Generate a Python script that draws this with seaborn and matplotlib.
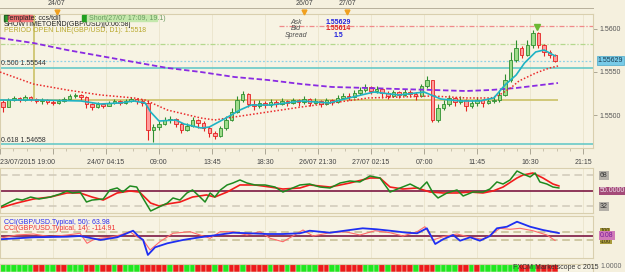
import numpy as np
import matplotlib
matplotlib.use("Agg")
import matplotlib.pyplot as plt
import matplotlib.transforms as mtrans
from matplotlib.patches import Rectangle
import seaborn as sns

sns.set_theme(style="white")
plt.rcParams['font.family'] = ['Liberation Sans Narrow', 'Liberation Sans', 'DejaVu Sans']

# ---------------- data ----------------
tick_bars = [0, 19, 38, 57, 76, 95, 114, 133, 152, 171, 190, 209]
tick_labels = ["23/07/2015 19:00", "", "24/07 04:15", "09:00", "13:45", "18:30",
               "26/07 21:30", "27/07 02:15", "07:00", "11:45", "16:30", "21:15"]
date_marks = ["24/07", "26/07", "27/07"]
date_mark_bars = [20.4, 109.0, 124.4]

open0 = 1.55151
closes = np.array([
    1.55093, 1.55174, 1.55198, 1.55174, 1.55209, 1.55186, 1.55163, 1.55174, 1.55151, 1.55140,
    1.55163, 1.55186, 1.55221, 1.55233, 1.55209, 1.55128, 1.55093, 1.55128, 1.55105, 1.55140,
    1.55163, 1.55140, 1.55163, 1.55186, 1.55163, 1.55140, 1.54826, 1.54860, 1.54895, 1.54942,
    1.54953, 1.54895, 1.54826, 1.54872, 1.54942, 1.54907, 1.54849, 1.54791, 1.54756, 1.54849,
    1.54942, 1.55035, 1.55174, 1.55244, 1.55128, 1.55105, 1.55140, 1.55116, 1.55151, 1.55128,
    1.55163, 1.55140, 1.55174, 1.55151, 1.55186, 1.55140, 1.55163, 1.55128, 1.55174, 1.55151,
    1.55198, 1.55221, 1.55209, 1.55256, 1.55291, 1.55326, 1.55279, 1.55302, 1.55256, 1.55221,
    1.55267, 1.55233, 1.55267, 1.55244, 1.55221, 1.55337, 1.55407, 1.54942, 1.55081, 1.55128,
    1.55198, 1.55151, 1.55174, 1.55105, 1.55140, 1.55174, 1.55140, 1.55163, 1.55174, 1.55233,
    1.55407, 1.55640, 1.55779, 1.55698, 1.55814, 1.55953, 1.55814, 1.55733, 1.55698, 1.55629])
highs = np.array([
    1.55174, 1.55198, 1.55221, 1.55209, 1.55233, 1.55221, 1.55198, 1.55198, 1.55186, 1.55174,
    1.55186, 1.55209, 1.55244, 1.55256, 1.55244, 1.55221, 1.55140, 1.55151, 1.55140, 1.55163,
    1.55186, 1.55174, 1.55186, 1.55209, 1.55198, 1.55186, 1.55174, 1.54895, 1.54930, 1.54977,
    1.54988, 1.54965, 1.54919, 1.54907, 1.54977, 1.54953, 1.54930, 1.54872, 1.54814, 1.54872,
    1.54988, 1.55081, 1.55221, 1.55279, 1.55256, 1.55174, 1.55174, 1.55163, 1.55186, 1.55174,
    1.55198, 1.55174, 1.55198, 1.55186, 1.55221, 1.55198, 1.55198, 1.55174, 1.55198, 1.55186,
    1.55233, 1.55256, 1.55256, 1.55291, 1.55326, 1.55360, 1.55337, 1.55337, 1.55302, 1.55279,
    1.55291, 1.55279, 1.55302, 1.55291, 1.55267, 1.55360, 1.55453, 1.55407, 1.55128, 1.55174,
    1.55233, 1.55209, 1.55221, 1.55186, 1.55174, 1.55209, 1.55186, 1.55198, 1.55221, 1.55291,
    1.55477, 1.55733, 1.55872, 1.55802, 1.55872, 1.55988, 1.55965, 1.55826, 1.55756, 1.55709])
lows = np.array([
    1.55035, 1.55093, 1.55163, 1.55151, 1.55163, 1.55163, 1.55140, 1.55128, 1.55128, 1.55116,
    1.55128, 1.55151, 1.55186, 1.55198, 1.55174, 1.55081, 1.55058, 1.55081, 1.55081, 1.55105,
    1.55128, 1.55116, 1.55128, 1.55151, 1.55128, 1.55105, 1.54709, 1.54686, 1.54826, 1.54884,
    1.54907, 1.54860, 1.54791, 1.54814, 1.54860, 1.54849, 1.54814, 1.54744, 1.54721, 1.54744,
    1.54826, 1.54930, 1.55023, 1.55151, 1.55093, 1.55058, 1.55081, 1.55081, 1.55093, 1.55093,
    1.55116, 1.55105, 1.55128, 1.55105, 1.55128, 1.55105, 1.55128, 1.55093, 1.55116, 1.55116,
    1.55140, 1.55186, 1.55174, 1.55198, 1.55233, 1.55267, 1.55244, 1.55256, 1.55198, 1.55186,
    1.55209, 1.55198, 1.55221, 1.55209, 1.55174, 1.55209, 1.55314, 1.54919, 1.54919, 1.55058,
    1.55105, 1.55105, 1.55128, 1.55047, 1.55081, 1.55105, 1.55093, 1.55128, 1.55140, 1.55151,
    1.55221, 1.55384, 1.55616, 1.55663, 1.55686, 1.55779, 1.55779, 1.55686, 1.55663, 1.55616])

fast_ma_bars = [0, 14, 29, 36, 43, 48, 52, 54, 57, 63, 66, 72, 75, 81, 86, 90, 97, 108, 118,
                125, 134, 143, 152, 158, 165, 172, 177, 181, 185, 188, 192, 195, 199]
fast_ma = [1.55174, 1.55174, 1.55163, 1.55128, 1.55140, 1.55163, 1.55140, 1.55035, 1.54930,
           1.54942, 1.54895, 1.54849, 1.54860, 1.54965, 1.55058, 1.55116, 1.55116, 1.55163,
           1.55140, 1.55198, 1.55267, 1.55233, 1.55267, 1.55186, 1.55163, 1.55163, 1.55198,
           1.55349, 1.55465, 1.55605, 1.55733, 1.55756, 1.55686]
mid_ma_bars = [0, 12, 24, 36, 48, 52, 60, 72, 77, 84, 96, 108, 119, 132, 143, 155, 167, 176,
               179, 183, 186, 192, 197, 200]
mid_ma = [1.55500, 1.55360, 1.55291, 1.55233, 1.55198, 1.55174, 1.55058, 1.54965, 1.54942,
          1.54977, 1.55035, 1.55093, 1.55140, 1.55198, 1.55209, 1.55221, 1.55198, 1.55198,
          1.55233, 1.55314, 1.55395, 1.55488, 1.55547, 1.55570]
slow_ma_bars = [0, 12, 24, 36, 48, 60, 72, 84, 96, 108, 119, 132, 143, 155, 167, 176, 185, 194, 200]
slow_ma = [1.55895, 1.55837, 1.55756, 1.55686, 1.55616, 1.55547, 1.55500, 1.55442, 1.55407,
           1.55360, 1.55326, 1.55314, 1.55302, 1.55291, 1.55279, 1.55291, 1.55314, 1.55349, 1.55372]

period_open = 1.5518
fib_levels = [1.55544, 1.54658]
high_line, mid_line, ask_price, bid_price = 1.56035, 1.55826, 1.55629, 1.55614

rsi_bars = [0, 3.6, 6, 8, 11, 14, 18, 21.5, 24, 26, 28.7, 31, 33, 37, 39.4, 42, 44, 46.6, 49, 51,
            54, 57, 60, 62, 64.5, 67, 69, 71.7, 73.5, 75.3, 77, 79, 81.4, 83.5, 86, 88.5, 91.4, 95,
            98.6, 101.4, 104, 107.5, 111, 114.7, 118.3, 121.9, 125.4, 129, 132.6, 136.2, 139.8,
            143.4, 147, 150.5, 153, 155.2, 157, 160.2, 163.8, 166, 169.5, 173.1, 175.6, 178.1,
            180.3, 182.8, 185.3, 187.5, 190, 191.8, 193.5, 196, 198.2, 200.4]
rsi_vals = [31.4, 37.2, 40.7, 39.5, 43, 40.7, 43, 46.5, 50, 47.7, 48.8, 37.2, 39.5, 40.7, 51.2,
            53.5, 48.8, 55.8, 54.6, 43, 26.8, 31.4, 36, 41.9, 39.5, 47.7, 51.2, 43, 37.2, 47.7, 43,
            51.2, 57, 59.3, 62.8, 59.3, 57, 57, 54.6, 48.8, 52.3, 57, 58.1, 54.6, 53.5, 59.3, 61.6,
            60.5, 67.4, 65.1, 48.8, 53.5, 58.1, 52.3, 60.5, 47.7, 41.9, 47.7, 51.2, 44.2, 48.8,
            48.8, 52.3, 60.5, 58.1, 62.8, 73.2, 69.7, 66.3, 70.9, 60.5, 58.1, 54.6, 53.5]
sig_bars = [0, 6, 12, 18, 24, 28.7, 33, 37, 42, 46.6, 50, 54, 57, 60, 64.5, 69, 74, 77, 81.4, 86,
            91.4, 96.8, 101.4, 107.5, 111, 118.3, 125.4, 132.6, 136.2, 139.8, 144.4, 149.5, 154.1,
            158.8, 163.8, 168.5, 173.1, 176.7, 180.3, 185.3, 187.5, 191, 194.6, 198.2, 200.4]
sig_vals = [30.3, 36, 40.7, 43, 47.7, 47.7, 43, 39.5, 47.7, 50, 48.8, 36, 32.6, 34.9, 37.2, 43,
            45.4, 43, 48.8, 57, 57, 54.6, 52.3, 53.5, 57, 54.6, 59.3, 65.1, 65.1, 54.6, 52.3, 53.5,
            48.8, 47.7, 47.7, 48.8, 47.7, 50, 54.6, 65.1, 68.6, 70.9, 65.1, 58.1, 55.8]

cci50_bars = [0, 12, 24, 28.7, 33, 36, 42, 45.5, 47.7, 50, 51.3, 53, 55.6, 60, 65.6, 71.7, 77.8,
              83.5, 89.6, 95.7, 101.4, 107.5, 111, 118.3, 125.4, 130, 135, 139.8, 145.9, 149.5,
              153, 156, 158.8, 162.4, 164.9, 168.5, 172, 175.6, 178.1, 181.7, 185.3, 190, 194.6, 200.4]
cci50_vals = [-84, -36, -22, -5, -60, -100, -36, 60, 122, -36, -100, -460, -276, -180, -100, -36,
              19, 74, 60, 43, 43, 60, 122, 74, 139, 180, 156, 122, 74, 60, 180, -197, -84, 19,
              -118, -36, -118, -5, 180, 218, 338, 218, 139, 64]
cci14_bars = [0, 6, 12, 18, 24, 28.7, 31.2, 33.3, 35.8, 39.4, 43, 46.6, 49, 51.3, 53.8, 57.3, 62,
              68.1, 71.7, 75.3, 78.9, 83.5, 88.5, 93.2, 96.8, 101.4, 105, 108.6, 112.2, 118.3,
              123.7, 129, 134.4, 139.8, 144.4, 149.5, 152.3, 155.2, 158.8, 163.8, 168.5, 173.1,
              176.7, 179.2, 182.8, 186.4, 191, 196, 199]
cci14_vals = [-60, 19, 43, -22, 19, 60, -180, -100, -60, -36, 19, 98, -22, -100, -340, -142, 60,
              98, 19, -60, 98, 98, 19, 98, -60, -142, -5, 139, -5, 74, 98, 19, 122, 74, -5, 98,
              218, -100, -22, 43, -36, -84, 60, 180, 156, 180, 122, 19, -115]

strip_signs = ("GGGGGGRRGG" "RRGGGRRGRR" "GRGGGRRRRR" "GRRGGRRRGR" "GRRGRRRRGR"
               "RGRGGGGRRG" "GRRRRGGGRG" "RRRRGRRRGG" "GGRRGRGGGG" "GGGRRGRRRR")

# ---------------- layout ----------------
BG = "#f5f0de"
PANEL = "#f7f3e3"
EDGE = "#d9cfae"
W, H = 625, 272
XMAX = 593 / 2.79


def rect(x0, y0, x1, y1):
    return [x0 / W, 1 - y1 / H, (x1 - x0) / W, (y1 - y0) / H]


fig = plt.figure(figsize=(6.25, 2.72), dpi=100, facecolor=BG)
ax = fig.add_axes(rect(0, 14, 593, 148))
ax_top = fig.add_axes(rect(0, 0, 593, 8))
ax_rsi = fig.add_axes(rect(0, 168, 593, 213))
ax_cci = fig.add_axes(rect(0, 216, 593, 258))
ax_bar = fig.add_axes(rect(0, 264, 593, 272))

FS = 5
for a in (ax, ax_rsi, ax_cci, ax_bar):
    a.set_facecolor(PANEL)
    a.set_xlim(0, XMAX)
    for s in a.spines.values():
        s.set_color(EDGE)
        s.set_linewidth(0.8)
    a.set_xticks(tick_bars)
    a.grid(axis='x', color='#ebe4cc', lw=0.6)
    a.grid(axis='y', visible=False)

# ---------------- main price panel ----------------
candle_x = 1 + 2 * np.arange(len(closes))
opens = np.r_[open0, closes[:-1]]
up = closes >= opens
edge_c = np.where(up, '#2f8f2f', '#e52222')
face_c = np.where(up, '#9edc8a', '#ff9d9d')
ax.vlines(candle_x, lows, highs, colors=edge_c, lw=0.8, zorder=3)
ax.bar(candle_x, closes - opens, bottom=opens, width=1.25, color=face_c,
       edgecolor=edge_c, lw=0.6, zorder=4)

ax.axhline(fib_levels[0], color='#5cc6c6', lw=1.1, zorder=2)
ax.axhline(fib_levels[1], color='#5cc6c6', lw=1.1, zorder=2)
ax.axhline(ask_price, color='#8fd2e6', lw=0.9, ls=(0, (1.5, 1.5)), zorder=2)
ax.axhline(mid_line, color='#b4d88e', lw=0.9, ls=(0, (4, 1.5, 1, 1.5)), zorder=2)
ax.hlines(high_line, 100, XMAX, color='#f08a8a', lw=0.9, ls=(0, (4, 1.5, 1, 1.5)), zorder=2)
ax.hlines(period_open, 0, 200, color='#cfc570', lw=1.3, zorder=2)
ax.vlines(12.2, period_open, 1.5617, color='#cfc570', lw=1.3, zorder=2)

sns.lineplot(x=slow_ma_bars, y=slow_ma, ax=ax, color='#8a2be2', lw=1.3,
             linestyle=(0, (3, 1.5)), zorder=5)
sns.lineplot(x=mid_ma_bars, y=mid_ma, ax=ax, color='#ea2a2a', lw=1.1,
             linestyle=(0, (1, 1.3)), zorder=5)
sns.lineplot(x=fast_ma_bars, y=fast_ma, ax=ax, color='#1fb3c4', lw=1.2, zorder=6)
ax.plot([192.5], [1.56028], marker='v', color='#6cb834', ms=5, zorder=7)

ax.set_ylim(1.546163, 1.561744)
ax.yaxis.tick_right()
ax.set_yticks([1.5500, 1.5550, 1.5600])
ax.set_yticklabels(['1.5500', '1.5550', '1.5600'])
ax.set_xticklabels(tick_labels)
ax.get_xticklabels()[0].set_ha('left')
ax.xaxis.set_minor_locator(matplotlib.ticker.MultipleLocator(19 / 4))
ax.tick_params(axis='y', which='both', right=True, length=3, width=0.6, color='#a09a88',
               labelsize=FS, labelcolor='#555555', pad=2)
ax.tick_params(axis='x', which='major', bottom=True, length=4, width=0.6, color='#a09a88',
               labelsize=FS, labelcolor='#444444', pad=4)
ax.tick_params(axis='x', which='minor', bottom=True, length=2, width=0.5, color='#b8b09a')
ax.set_xlabel('')
ax.set_ylabel('')

blend = mtrans.blended_transform_factory(ax.transAxes, ax.transData)
ax.text(1.008, ask_price, '1.55629', transform=blend, fontsize=FS, va='center', ha='left',
        color='#1a3a50', bbox=dict(boxstyle='square,pad=0.15', fc='#78cbe8', ec='#4aa8c8', lw=0.5))

# texts in main panel (pixel positions)
def ptext(x, y, s, **kw):
    kw.setdefault('fontsize', FS)
    kw.setdefault('va', 'center')
    fig.text(x / W, 1 - y / H, s, **kw)


def prect(x0, y0, x1, y1, color):
    fig.patches.append(Rectangle((x0 / W, 1 - y1 / H), (x1 - x0) / W, (y1 - y0) / H,
                                 transform=fig.transFigure, color=color, zorder=10))


prect(4, 15, 7.5, 21, '#2ca02c')
prect(8, 15, 32, 21, '#f07575')
ptext(4, 18, '[Template: ccs/tdi]', color='#222222', zorder=11)
prect(82, 15, 87, 21, '#22a022')
prect(87, 15, 157, 21, '#c4e8ac')
ptext(89, 18, 'Short(27/07 17:09, 19.1)', color='#6a9a60', zorder=11)
ptext(4, 24.5, 'SHOWTIMETOEND(GBP/USD)[0:06:58]', color='#222222')
ptext(4, 30.5, 'PERIOD OPEN LINE(GBP/USD, D1): 1.5518', color='#b8a82a')
ptext(296, 23, 'Ask', color='#505050', style='italic', ha='center')
ptext(296, 29, 'Bid', color='#505050', style='italic', ha='center')
ptext(296, 35.5, 'Spread', color='#505050', style='italic', ha='center')
ptext(338, 23, '1.55629', color='#2222dd', weight='bold', ha='center')
ptext(338, 29, '1.55614', color='#dd2222', weight='bold', ha='center')
ptext(338, 35.5, '1.5', color='#2222dd', weight='bold', ha='center')
ptext(1, 63, '0.500 1.55544', color='#333333')
ptext(1, 140.5, '0.618 1.54658', color='#333333')

# ---------------- top date strip ----------------
ax_top.set_facecolor(BG)
ax_top.set_xlim(0, XMAX)
ax_top.set_ylim(0, 1)
for k, s in ax_top.spines.items():
    s.set_visible(k == 'bottom')
    s.set_color('#b8b09a')
    s.set_linewidth(0.7)
ax_top.set_yticks([])
ax_top.set_xticks([5.4 + 19.7 * k for k in range(11)])
ax_top.set_xticklabels([])
ax_top.tick_params(axis='x', direction='in', length=2.5, width=0.5, color='#a09a88')
for b, s in zip(date_mark_bars, date_marks):
    ax_top.text(b, 0.55, s, fontsize=FS, ha='center', va='center', color='#444444')
ax_top.plot(date_mark_bars, [-0.45] * 3, 'v', color='#f0a020', ms=3.5, clip_on=False, zorder=20)

# ---------------- RSI-like panel ----------------
ax_rsi.axhline(68, color='#cfc8b8', lw=1.1, ls=(0, (5, 3)))
ax_rsi.axhline(32, color='#cfc8b8', lw=1.1, ls=(0, (5, 3)))
ax_rsi.axhline(50, color='#7c1842', lw=1.2)
sns.lineplot(x=sig_bars, y=sig_vals, ax=ax_rsi, color='#f21c1c', lw=1.2)
sns.lineplot(x=rsi_bars, y=rsi_vals, ax=ax_rsi, color='#1f8a1f', lw=1.1)
ax_rsi.set_ylim(24.45, 76.7)
ax_rsi.set_yticks([])
ax_rsi.set_xticklabels([])
ax_rsi.tick_params(axis='x', length=0)
ax_rsi.set_xlabel('')
ax_rsi.set_ylabel('')
b2 = mtrans.blended_transform_factory(ax_rsi.transAxes, ax_rsi.transData)
for v, s, fc, tc in [(68, '68', '#b4b0a8', '#333333'), (50, '50.0000', '#a44a78', '#f0e4ee'),
                     (32, '32', '#b4b0a8', '#333333')]:
    ax_rsi.text(1.012, v, s, transform=b2, fontsize=FS, va='center', ha='left', color=tc,
                bbox=dict(boxstyle='square,pad=0.12', fc=fc, ec='none'))

# ---------------- CCI panel ----------------
ax_cci.axhline(100, color='#c4bc90', lw=1.1, ls=(0, (5, 3)))
ax_cci.axhline(-100, color='#c4bc90', lw=1.1, ls=(0, (5, 3)))
ax_cci.axhline(0, color='#7c1842', lw=1.2)
sns.lineplot(x=cci14_bars, y=cci14_vals, ax=ax_cci, color='#ff6a6a', lw=0.8)
sns.lineplot(x=cci50_bars, y=cci50_vals, ax=ax_cci, color='#1f2ff2', lw=1.3)
ax_cci.set_ylim(-533, 475)
ax_cci.set_yticks([])
ax_cci.set_xticklabels([])
ax_cci.tick_params(axis='x', length=0)
ax_cci.set_xlabel('')
ax_cci.set_ylabel('')
ax_cci.text(0.007, 0.857, 'CCI(GBP/USD.Typical, 50): 63.98', transform=ax_cci.transAxes,
            fontsize=FS, color='#2a2af0', va='center')
ax_cci.text(0.007, 0.714, 'CCI(GBP/USD.Typical, 14): -114.91', transform=ax_cci.transAxes,
            fontsize=FS, color='#f03030', va='center')
b3 = mtrans.blended_transform_factory(ax_cci.transAxes, ax_cci.transData)
ax_cci.text(1.012, 120, '100', transform=b3, fontsize=4, va='center', ha='left', color='#3a3410',
            bbox=dict(boxstyle='square,pad=0.1', fc='#a89a3c', ec='none'))
ax_cci.text(1.012, -130, '-100', transform=b3, fontsize=4, va='center', ha='left', color='#3a3410',
            bbox=dict(boxstyle='square,pad=0.1', fc='#a89a3c', ec='none'))
ax_cci.text(1.012, 0, '0.08', transform=b3, fontsize=FS, va='center', ha='left', color='#7a1a9a',
            bbox=dict(boxstyle='square,pad=0.12', fc='#d07ab8', ec='none'))

# ---------------- signal strip ----------------
strip_cols = ['#1fe81f' if c == 'G' else '#ee1a1a' for c in strip_signs]
ax_bar.bar(candle_x, [1] * len(candle_x), width=2.0, color=strip_cols,
           edgecolor='#e8f0d8', lw=0.35)
ax_bar.set_ylim(0, 1)
ax_bar.set_yticks([])
ax_bar.set_xticklabels([])
ax_bar.tick_params(axis='x', length=0)
ax_bar.grid(False)
ptext(513, 267.5, 'FXCM Marketscope c 2015', color='#333333', zorder=12)
ptext(600, 266, '1.0000', color='#666666')

fig.savefig('out.png', dpi=100, facecolor=BG)
